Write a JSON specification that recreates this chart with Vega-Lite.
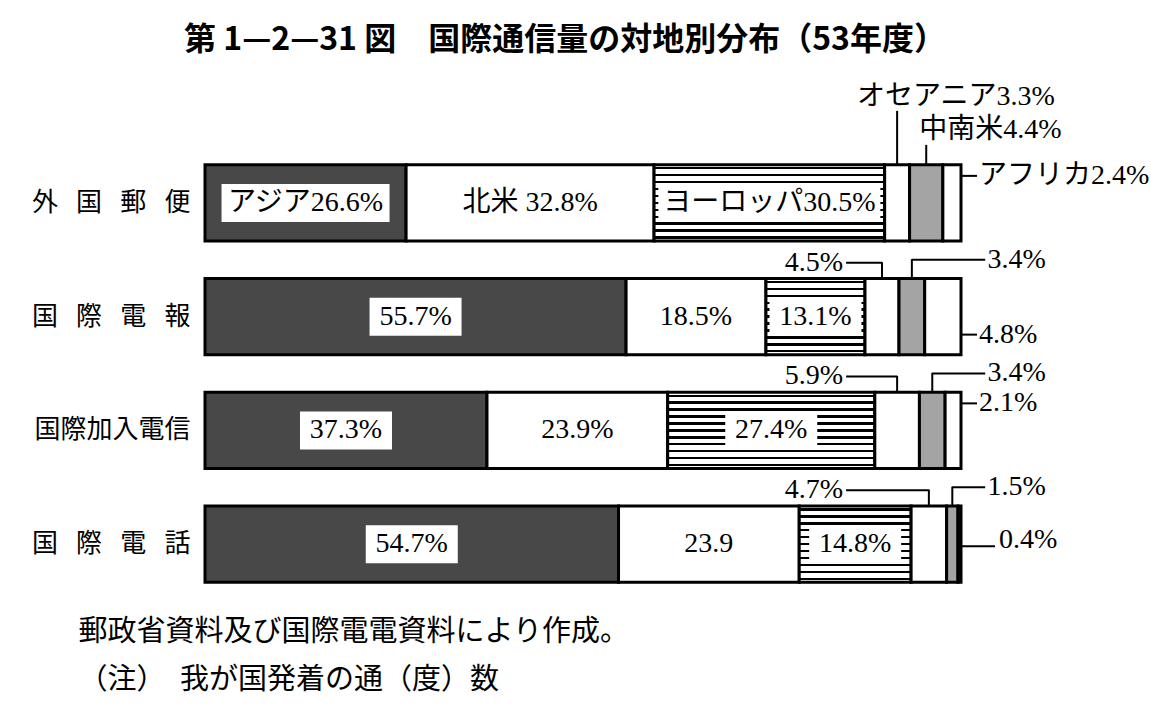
{
  "$schema": "https://vega.github.io/schema/vega-lite/v6.json",
  "width": 756,
  "height": 455,
  "autosize": {"type": "none"},
  "padding": {"left": 205, "top": 146, "right": 190, "bottom": 108},
  "background": "white",
  "title": {"text": "第 1—2—31 図　国際通信量の対地別分布（53年度）", "font": "Noto Sans CJK JP", "fontSize": 32, "fontWeight": "bold", "color": "black", "anchor": "middle", "frame": "group", "baseline": "bottom", "offset": 22, "dx": -18, "dy": 28},
  "config": {"view": {"stroke": null}, "axis": {"domain": false, "ticks": false, "grid": false}},
  "data": {"values": [
    {"medium": "外国郵便", "region": "アジア", "order": 1, "pct": 26.6, "label": "アジア26.6%", "lp": "boxA"},
    {"medium": "外国郵便", "region": "北米", "order": 2, "pct": 32.8, "label": "北米 32.8%", "lp": "in"},
    {"medium": "外国郵便", "region": "ヨーロッパ", "order": 3, "pct": 30.5, "label": "ヨーロッパ30.5%", "lp": "boxE"},
    {"medium": "外国郵便", "region": "オセアニア", "order": 4, "pct": 3.3, "label": "オセアニア3.3%", "lp": "t1"},
    {"medium": "外国郵便", "region": "中南米", "order": 5, "pct": 4.4, "label": "中南米4.4%", "lp": "t2"},
    {"medium": "外国郵便", "region": "アフリカ", "order": 6, "pct": 2.4, "label": "アフリカ2.4%", "lp": "rU"},
    {"medium": "国際電報", "region": "アジア", "order": 1, "pct": 55.7, "label": "55.7%", "lp": "box"},
    {"medium": "国際電報", "region": "北米", "order": 2, "pct": 18.5, "label": "18.5%", "lp": "in"},
    {"medium": "国際電報", "region": "ヨーロッパ", "order": 3, "pct": 13.1, "label": "13.1%", "lp": "box"},
    {"medium": "国際電報", "region": "オセアニア", "order": 4, "pct": 4.5, "label": "4.5%", "lp": "aL"},
    {"medium": "国際電報", "region": "中南米", "order": 5, "pct": 3.4, "label": "3.4%", "lp": "aR"},
    {"medium": "国際電報", "region": "アフリカ", "order": 6, "pct": 4.8, "label": "4.8%", "lp": "rD"},
    {"medium": "国際加入電信", "region": "アジア", "order": 1, "pct": 37.3, "label": "37.3%", "lp": "box"},
    {"medium": "国際加入電信", "region": "北米", "order": 2, "pct": 23.9, "label": "23.9%", "lp": "in"},
    {"medium": "国際加入電信", "region": "ヨーロッパ", "order": 3, "pct": 27.4, "label": "27.4%", "lp": "box"},
    {"medium": "国際加入電信", "region": "オセアニア", "order": 4, "pct": 5.9, "label": "5.9%", "lp": "aL"},
    {"medium": "国際加入電信", "region": "中南米", "order": 5, "pct": 3.4, "label": "3.4%", "lp": "aR"},
    {"medium": "国際加入電信", "region": "アフリカ", "order": 6, "pct": 2.1, "label": "2.1%", "lp": "rU"},
    {"medium": "国際電話", "region": "アジア", "order": 1, "pct": 54.7, "label": "54.7%", "lp": "box"},
    {"medium": "国際電話", "region": "北米", "order": 2, "pct": 23.9, "label": "23.9", "lp": "in"},
    {"medium": "国際電話", "region": "ヨーロッパ", "order": 3, "pct": 14.8, "label": "14.8%", "lp": "box"},
    {"medium": "国際電話", "region": "オセアニア", "order": 4, "pct": 4.7, "label": "4.7%", "lp": "aL"},
    {"medium": "国際電話", "region": "中南米", "order": 5, "pct": 1.5, "label": "1.5%", "lp": "aR"},
    {"medium": "国際電話", "region": "アフリカ", "order": 6, "pct": 0.4, "label": "0.4%", "lp": "rC"}
  ]},
  "transform": [
    {"stack": "pct", "groupby": ["medium"], "sort": [{"field": "order"}], "as": ["x0", "x1"]},
    {"calculate": "(datum.x0 + datum.x1) / 2", "as": "mid"}
  ],
  "encoding": {
    "y": {"field": "medium", "type": "nominal", "sort": ["外国郵便", "国際電報", "国際加入電信", "国際電話"],
      "scale": {"type": "band", "paddingInner": 0.33, "paddingOuter": 0.165},
      "axis": {"title": null, "labelFont": "Noto Sans CJK JP", "labelFontSize": 26, "labelColor": "black", "labelPadding": 15,
        "labelExpr": "length(datum.value) == 4 ? join(split(datum.value, ''), '\u2002\u2009') : datum.value"}}
  },
  "layer": [
    {
      "mark": {"type": "bar", "stroke": "black", "strokeWidth": 3},
      "encoding": {
        "x": {"field": "x0", "type": "quantitative", "scale": {"domain": [0, 100], "nice": false},
          "axis": {"labels": false, "ticks": false, "domain": false, "grid": false,
            "title": ["郵政省資料及び国際電電資料により作成。", "（注）　我が国発着の通（度）数"],
            "titleFont": "Noto Sans CJK JP", "titleFontSize": 29, "titleFontWeight": "normal", "titleColor": "black",
            "titleAnchor": "start", "titleAlign": "left", "titleX": -127, "titleY": 16, "titleBaseline": "top", "titleLineHeight": 48}},
        "x2": {"field": "x1"},
        "fill": {
          "condition": [
            {"test": "datum.region === 'アジア'", "value": "#484848"},
            {"test": "datum.region === 'ヨーロッパ'", "value": {"gradient": "linear", "x1": 0, "y1": 0, "x2": 0, "y2": 1, "stops": [
              {"offset": 0, "color": "white"},
              {"offset": 0.0295, "color": "white"}, {"offset": 0.0295, "color": "black"}, {"offset": 0.0615, "color": "black"}, {"offset": 0.0615, "color": "white"},
              {"offset": 0.1204, "color": "white"}, {"offset": 0.1204, "color": "black"}, {"offset": 0.1524, "color": "black"}, {"offset": 0.1524, "color": "white"},
              {"offset": 0.2113, "color": "white"}, {"offset": 0.2113, "color": "black"}, {"offset": 0.2433, "color": "black"}, {"offset": 0.2433, "color": "white"},
              {"offset": 0.3022, "color": "white"}, {"offset": 0.3022, "color": "black"}, {"offset": 0.3342, "color": "black"}, {"offset": 0.3342, "color": "white"},
              {"offset": 0.3931, "color": "white"}, {"offset": 0.3931, "color": "black"}, {"offset": 0.4251, "color": "black"}, {"offset": 0.4251, "color": "white"},
              {"offset": 0.484, "color": "white"}, {"offset": 0.484, "color": "black"}, {"offset": 0.516, "color": "black"}, {"offset": 0.516, "color": "white"},
              {"offset": 0.5749, "color": "white"}, {"offset": 0.5749, "color": "black"}, {"offset": 0.6069, "color": "black"}, {"offset": 0.6069, "color": "white"},
              {"offset": 0.6658, "color": "white"}, {"offset": 0.6658, "color": "black"}, {"offset": 0.6978, "color": "black"}, {"offset": 0.6978, "color": "white"},
              {"offset": 0.7567, "color": "white"}, {"offset": 0.7567, "color": "black"}, {"offset": 0.7887, "color": "black"}, {"offset": 0.7887, "color": "white"},
              {"offset": 0.8476, "color": "white"}, {"offset": 0.8476, "color": "black"}, {"offset": 0.8796, "color": "black"}, {"offset": 0.8796, "color": "white"},
              {"offset": 0.9385, "color": "white"}, {"offset": 0.9385, "color": "black"}, {"offset": 0.9705, "color": "black"}, {"offset": 0.9705, "color": "white"},
              {"offset": 1, "color": "white"}
            ]}},
            {"test": "datum.region === '中南米'", "value": "#a4a4a4"}
          ],
          "value": "white"
        }
      }
    },
    {
      "transform": [{"filter": "datum.lp === 'box'"}],
      "mark": {"type": "tick", "orient": "vertical", "thickness": 92, "size": 38, "color": "white", "opacity": 1},
      "encoding": {"x": {"field": "mid", "type": "quantitative"}}
    },
    {
      "transform": [{"filter": "datum.lp === 'boxA'"}],
      "mark": {"type": "tick", "orient": "vertical", "thickness": 168, "size": 38, "color": "white", "opacity": 1},
      "encoding": {"x": {"field": "mid", "type": "quantitative"}}
    },
    {
      "transform": [{"filter": "datum.lp === 'boxE'"}],
      "mark": {"type": "tick", "orient": "vertical", "thickness": 222, "size": 38, "color": "white", "opacity": 1},
      "encoding": {"x": {"field": "mid", "type": "quantitative"}}
    },
    {
      "transform": [{"filter": "indexof(['in','box','boxA','boxE'], datum.lp) >= 0"}],
      "mark": {"type": "text", "font": "Liberation Serif, Noto Sans CJK JP", "fontSize": 28, "color": "black", "baseline": "middle", "align": "center"},
      "encoding": {"x": {"field": "mid", "type": "quantitative"}, "text": {"field": "label"}}
    },
    {
      "transform": [{"filter": "datum.lp === 't1'"}],
      "mark": {"type": "text", "font": "Liberation Serif, Noto Sans CJK JP", "fontSize": 28, "color": "black", "baseline": "middle", "align": "left", "dx": -40, "dy": -106},
      "encoding": {"x": {"field": "mid", "type": "quantitative"}, "text": {"field": "label"}}
    },
    {
      "transform": [{"filter": "datum.lp === 't1'"}],
      "mark": {"type": "tick", "orient": "vertical", "thickness": 2, "size": 54, "yOffset": -65, "color": "black", "opacity": 1},
      "encoding": {"x": {"field": "mid", "type": "quantitative"}}
    },
    {
      "transform": [{"filter": "datum.lp === 't2'"}],
      "mark": {"type": "text", "font": "Liberation Serif, Noto Sans CJK JP", "fontSize": 28, "color": "black", "baseline": "middle", "align": "left", "dx": -7, "dy": -73},
      "encoding": {"x": {"field": "mid", "type": "quantitative"}, "text": {"field": "label"}}
    },
    {
      "transform": [{"filter": "datum.lp === 't2'"}],
      "mark": {"type": "tick", "orient": "vertical", "thickness": 2, "size": 20, "yOffset": -48, "color": "black", "opacity": 1},
      "encoding": {"x": {"field": "mid", "type": "quantitative"}}
    },
    {
      "transform": [{"filter": "datum.lp === 'aL'"}],
      "mark": {"type": "text", "font": "Liberation Serif, Noto Sans CJK JP", "fontSize": 28, "color": "black", "baseline": "middle", "align": "right", "dy": -54},
      "encoding": {"x": {"datum": 84.4}, "text": {"field": "label"}}
    },
    {
      "transform": [{"filter": "datum.lp === 'aL'"}],
      "mark": {"type": "rule", "strokeWidth": 2, "color": "black", "yOffset": -54},
      "encoding": {"x": {"field": "mid", "type": "quantitative"}, "x2": {"datum": 84.8}}
    },
    {
      "transform": [{"filter": "datum.lp === 'aL'"}],
      "mark": {"type": "tick", "orient": "vertical", "thickness": 2, "size": 17, "yOffset": -46, "color": "black", "opacity": 1},
      "encoding": {"x": {"field": "mid", "type": "quantitative"}}
    },
    {
      "transform": [{"filter": "datum.lp === 'aR'"}],
      "mark": {"type": "text", "font": "Liberation Serif, Noto Sans CJK JP", "fontSize": 28, "color": "black", "baseline": "middle", "align": "left", "dy": -57},
      "encoding": {"x": {"datum": 103.5}, "text": {"field": "label"}}
    },
    {
      "transform": [{"filter": "datum.lp === 'aR'"}],
      "mark": {"type": "rule", "strokeWidth": 2, "color": "black", "yOffset": -57},
      "encoding": {"x": {"field": "mid", "type": "quantitative"}, "x2": {"datum": 103.2}}
    },
    {
      "transform": [{"filter": "datum.lp === 'aR'"}],
      "mark": {"type": "tick", "orient": "vertical", "thickness": 2, "size": 20, "yOffset": -47.5, "color": "black", "opacity": 1},
      "encoding": {"x": {"field": "mid", "type": "quantitative"}}
    },
    {
      "transform": [{"filter": "datum.lp === 'rU'"}],
      "mark": {"type": "text", "font": "Liberation Serif, Noto Sans CJK JP", "fontSize": 28, "color": "black", "baseline": "middle", "align": "left", "dx": 18, "dy": -27},
      "encoding": {"x": {"datum": 100}, "text": {"field": "label"}}
    },
    {
      "transform": [{"filter": "datum.lp === 'rU'"}],
      "mark": {"type": "tick", "orient": "horizontal", "thickness": 2, "size": 16, "xOffset": 8, "yOffset": -27, "color": "black", "opacity": 1},
      "encoding": {"x": {"datum": 100}}
    },
    {
      "transform": [{"filter": "datum.lp === 'rD'"}],
      "mark": {"type": "text", "font": "Liberation Serif, Noto Sans CJK JP", "fontSize": 28, "color": "black", "baseline": "middle", "align": "left", "dx": 18, "dy": 18},
      "encoding": {"x": {"datum": 100}, "text": {"field": "label"}}
    },
    {
      "transform": [{"filter": "datum.lp === 'rD'"}],
      "mark": {"type": "tick", "orient": "horizontal", "thickness": 2, "size": 16, "xOffset": 8, "yOffset": 18, "color": "black", "opacity": 1},
      "encoding": {"x": {"datum": 100}}
    },
    {
      "transform": [{"filter": "datum.lp === 'rC'"}],
      "mark": {"type": "text", "font": "Liberation Serif, Noto Sans CJK JP", "fontSize": 28, "color": "black", "baseline": "middle", "align": "left", "dx": 38, "dy": -4},
      "encoding": {"x": {"datum": 100}, "text": {"field": "label"}}
    },
    {
      "transform": [{"filter": "datum.lp === 'rC'"}],
      "mark": {"type": "tick", "orient": "horizontal", "thickness": 2, "size": 34, "xOffset": 17, "yOffset": 2, "color": "black", "opacity": 1},
      "encoding": {"x": {"datum": 100}}
    }
  ]
}
